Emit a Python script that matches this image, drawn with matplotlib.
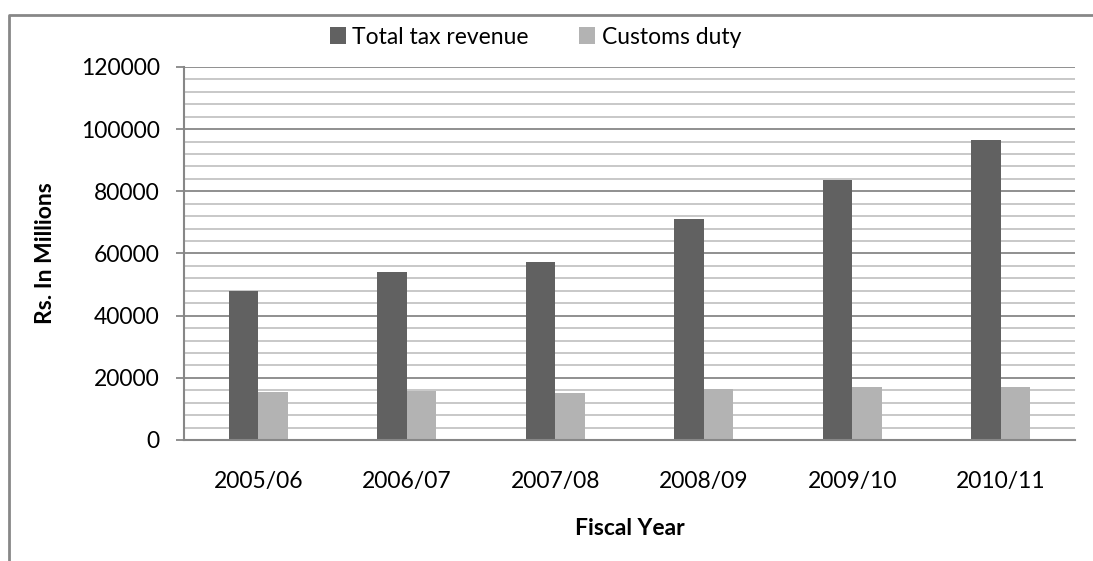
import matplotlib
matplotlib.use("Agg")
import matplotlib.pyplot as plt
from matplotlib.lines import Line2D
import numpy as np

plt.rcParams['font.family'] = ['Lato', 'DejaVu Sans']

years = ['2005/06', '2006/07', '2007/08', '2008/09', '2009/10', '2010/11']
total_tax = [48000, 54000, 57300, 71000, 83800, 96400]
customs = [15300, 15800, 15200, 16500, 17000, 17200]

dark = '#616161'
light = '#b3b3b3'
axis_gray = '#878787'
fs = 16.5

fig = plt.figure(figsize=(10.93, 5.61), dpi=100)
ax = fig.add_axes([184 / 1093, 1 - 440 / 561, 891 / 1093, 373 / 561])

x = np.arange(len(years))
w = 0.2
ax.bar(x - w / 2, total_tax, width=w, color=dark, label='Total tax revenue', zorder=3)
ax.bar(x + w / 2, customs, width=w, color=light, label='Customs duty', zorder=3)

ax.set_xlim(-0.5, len(years) - 0.5)
ax.set_ylim(0, 120000)
ax.set_yticks(np.arange(0, 120001, 20000))
ax.set_yticks(np.arange(0, 120001, 4000), minor=True)
ax.set_xticks(x)
ax.set_xticklabels(years)

ax.grid(axis='y', which='minor', color='#c4c4c4', lw=1.3, zorder=0)
ax.grid(axis='y', which='major', color=axis_gray, lw=1.3, zorder=1)

for s in ['top', 'right']:
    ax.spines[s].set_visible(False)
for s in ['left', 'bottom']:
    ax.spines[s].set_color(axis_gray)
    ax.spines[s].set_linewidth(1.5)
    ax.spines[s].set_zorder(4)

ax.tick_params(axis='y', which='major', length=5.5, color=axis_gray, width=1.3, labelsize=fs, pad=12)
ax.tick_params(axis='y', which='minor', length=0)
ax.tick_params(axis='x', length=0, labelsize=fs, pad=22)

ax.set_ylabel('Rs. In Millions', fontsize=16.5, fontweight='bold', labelpad=18)
ax.set_xlabel('Fiscal Year', fontsize=16.5, fontweight='bold', labelpad=19)

fig.legend(loc='center', bbox_to_anchor=(0.49, 1 - 37 / 561), ncol=2, frameon=False,
           fontsize=fs, handlelength=0.7, handleheight=0.7, handletextpad=0.3,
           columnspacing=2.2)

# chart border (left and top edges visible)
bx = 9 / 1093
by = 1 - 15 / 561
fig.add_artist(Line2D([bx, bx, 1.0], [0.0, by, by], color=axis_gray, lw=2,
                      transform=fig.transFigure))

fig.savefig('out.png', dpi=100)
